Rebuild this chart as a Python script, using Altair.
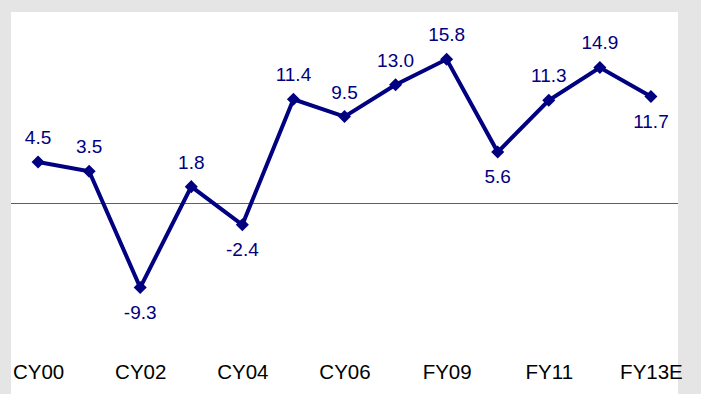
import altair as alt
import pandas as pd

categories = ["CY00", "CY01", "CY02", "CY03", "CY04", "CY05", "CY06",
              "FY08", "FY09", "FY10", "FY11", "FY12", "FY13E"]
values = [4.5, 3.5, -9.3, 1.8, -2.4, 11.4, 9.5, 13.0, 15.8, 5.6, 11.3, 14.9, 11.7]
tick_labels = ["CY00", "CY02", "CY04", "CY06", "FY09", "FY11", "FY13E"]
labels_below = ["CY02", "CY04", "FY10", "FY13E"]

df = pd.DataFrame({"cat": categories, "val": values})
df["label"] = [f"{v:.1f}" for v in values]
df["place"] = ["below" if c in labels_below else "above" for c in categories]

NAVY = "#000080"
FONT = "Liberation Sans"
YSCALE = alt.Scale(domain=[-21, 21], nice=False, zero=False)

x = alt.X(
    "cat:N",
    sort=categories,
    scale=alt.Scale(type="point", padding=0.53),
    axis=alt.Axis(
        values=tick_labels, labelAngle=0, ticks=False, tickSize=0, domain=False,
        grid=False, title=None, labelFont=FONT, labelFontSize=20.5,
        labelColor="black", labelPadding=0, offset=-32,
    ),
)
y = alt.Y("val:Q", scale=YSCALE, axis=None)

base = alt.Chart(df).encode(x=x, y=y)

zero = alt.Chart(pd.DataFrame({"z": [0]})).mark_rule(
    color="#606060", strokeWidth=1, yOffset=0.5
).encode(y=alt.Y("z:Q", scale=YSCALE, axis=None))

line = base.mark_line(color=NAVY, strokeWidth=4)
pts = base.mark_point(shape="diamond", filled=True, size=170, color=NAVY, opacity=1)

above = base.transform_filter(alt.datum.place == "above").mark_text(
    font=FONT, fontSize=19, color=NAVY, baseline="middle", dy=-24
).encode(text="label:N")
below = base.transform_filter(alt.datum.place == "below").mark_text(
    font=FONT, fontSize=19, color=NAVY, baseline="middle", dy=25
).encode(text="label:N")

chart = alt.layer(zero, line, pts, above, below).properties(
    width=667,
    height=382,
    background="#E5E5E5",
    padding={"left": 11, "top": 12, "right": 23, "bottom": 0},
    autosize=alt.AutoSizeParams(type="none"),
).configure_view(fill="white", strokeWidth=0)

chart.save("out.html", embed_options={"renderer": "svg", "actions": False})
